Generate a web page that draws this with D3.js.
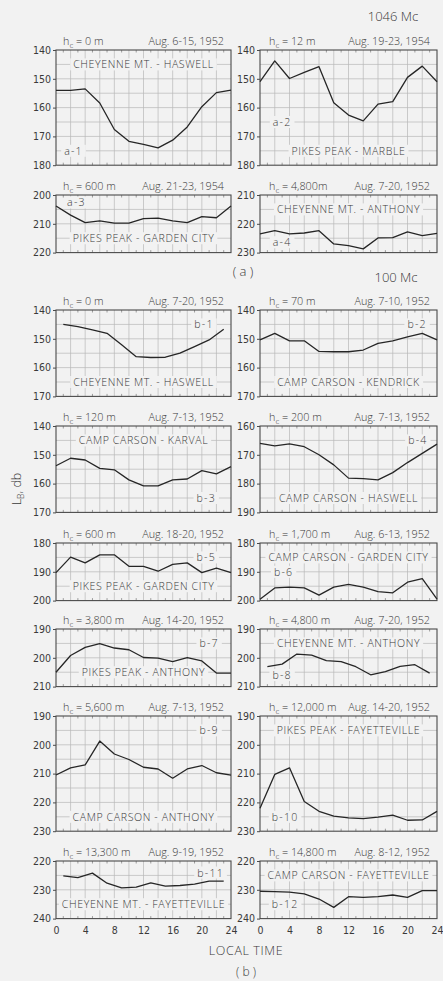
<!DOCTYPE html>
<html>
<head>
<meta charset="utf-8">
<script src="https://cdn.jsdelivr.net/npm/d3@7/dist/d3.min.js"></script>
<style>
  html, body { margin: 0; padding: 0; background: #f2f2f2; }
  svg { display: block; }
  text { fill: #3a3a3a; font-family: "Open Sans", "DejaVu Sans", sans-serif; font-weight: 300; }
  .tick { font-family: "Liberation Sans Narrow", "DejaVu Sans Condensed", sans-serif; font-size: 10.5px; }
</style>
</head>
<body>
<svg id="chart" width="443" height="981"></svg>
<script>
// Hours of the day at which the diurnal medians are plotted
const hoursEven = [0, 2, 4, 6, 8, 10, 12, 14, 16, 18, 20, 22, 24];
const hoursOdd = [1, 3, 5, 7, 9, 11, 13, 15, 17, 19, 21, 23];
const xTickLabels = [0, 4, 8, 12, 16, 20, 24];

// Basic transmission loss L_B (db), 1046 Mc
const a1 = [154, 154, 153.5, 158.4, 167.6, 171.7, 172.8, 174, 171.3, 166.7, 159.7, 154.8, 153.9];
const a2 = [151, 143.8, 149.9, 147.8, 145.8, 158.3, 162.6, 164.6, 158.8, 157.9, 149.5, 145.6, 151];
const a3 = [203.8, 207, 209.6, 209, 209.8, 209.8, 208.2, 208, 209, 209.6, 207.5, 207.9, 203.8];
const a4 = [223.5, 222.4, 223.5, 223.2, 222.4, 227, 227.6, 228.7, 224.9, 224.8, 222.8, 224.1, 223.3];

// Basic transmission loss L_B (db), 100 Mc
const b1 = [145, 145.8, 146.9, 148.1, 152.1, 156.2, 156.5, 156.4, 155, 152.7, 150.4, 146.7];
const b2 = [150.4, 148.1, 150.7, 150.7, 154.4, 154.5, 154.5, 153.9, 151.6, 150.7, 149.3, 148.1, 150.4];
const b3 = [153.8, 151.2, 151.8, 154.7, 155.2, 158.7, 160.8, 160.8, 158.7, 158.4, 155.5, 156.6, 154.1];
const b4 = [166, 166.9, 166.2, 167.2, 170, 173.5, 178.1, 178.3, 178.7, 176.2, 172.7, 169.5, 166.3];
const b5 = [190.3, 184.9, 186.9, 184.1, 184.1, 188.1, 188.1, 189.8, 187.4, 186.9, 190.3, 188.7, 190.3];
const b6 = [199.5, 195.6, 195.3, 195.6, 198.1, 195.3, 194.4, 195.3, 196.9, 197.3, 193.6, 192.4, 199.5];
const b7 = [205, 199.2, 196.4, 195.1, 196.6, 197.2, 199.9, 200.1, 201.3, 199.9, 201.1, 205.3, 205.3];
const b8 = [203.1, 202.2, 198.7, 199.1, 201, 201.3, 203.1, 205.9, 204.8, 203, 202.4, 205.3];
const b9 = [210.5, 208, 207, 198.7, 203.2, 205.1, 207.8, 208.4, 211.6, 208.4, 207.2, 209.7, 210.5];
const b10 = [222, 210.3, 208, 219.7, 223.1, 224.8, 225.4, 225.6, 225.1, 224.4, 226.2, 226.1, 223.1];
const b11 = [225.2, 225.8, 224.2, 227.7, 229.3, 229.1, 227.6, 228.7, 228.5, 228, 227, 227];
const b12 = [230.5, 230.6, 230.8, 231.4, 233.2, 236.1, 232.4, 232.6, 232.4, 231.8, 232.6, 230.3, 230.3];

// Antenna heights, measurement periods, paths and L_B ranges
const panelIds = ["a-1", "a-2", "a-3", "a-4", "b-1", "b-2", "b-3", "b-4",
                  "b-5", "b-6", "b-7", "b-8", "b-9", "b-10", "b-11", "b-12"];
const heights = ["0 m", "12 m", "600 m", "4,800m", "0 m", "70 m", "120 m", "200 m",
                 "600 m", "1,700 m", "3,800 m", "4,800 m", "5,600 m", "12,000 m", "13,300 m", "14,800 m"];
const periods = ["Aug. 6-15, 1952", "Aug. 19-23, 1954", "Aug. 21-23, 1954", "Aug. 7-20, 1952",
                 "Aug. 7-20, 1952", "Aug. 7-10, 1952", "Aug. 7-13, 1952", "Aug. 7-13, 1952",
                 "Aug. 18-20, 1952", "Aug. 6-13, 1952", "Aug. 14-20, 1952", "Aug. 7-20, 1952",
                 "Aug. 7-13, 1952", "Aug. 14-20, 1952", "Aug. 9-19, 1952", "Aug. 8-12, 1952"];
const paths = ["CHEYENNE MT. - HASWELL", "PIKES PEAK - MARBLE", "PIKES PEAK - GARDEN CITY", "CHEYENNE MT. - ANTHONY",
               "CHEYENNE MT. - HASWELL", "CAMP CARSON - KENDRICK", "CAMP CARSON - KARVAL", "CAMP CARSON - HASWELL",
               "PIKES PEAK - GARDEN CITY", "CAMP CARSON - GARDEN CITY", "PIKES PEAK - ANTHONY", "CHEYENNE MT. - ANTHONY",
               "CAMP CARSON - ANTHONY", "PIKES PEAK - FAYETTEVILLE", "CHEYENNE MT. - FAYETTEVILLE", "CAMP CARSON - FAYETTEVILLE"];
const yMin = [140, 140, 200, 210, 140, 140, 140, 160, 180, 180, 190, 190, 190, 190, 220, 220];
const yMax = [180, 180, 220, 230, 170, 170, 170, 190, 200, 200, 210, 210, 230, 230, 240, 240];
const seriesValues = [a1, a2, a3, a4, b1, b2, b3, b4, b5, b6, b7, b8, b9, b10, b11, b12];
const seriesHours = [hoursEven, hoursEven, hoursEven, hoursEven, hoursOdd, hoursEven, hoursEven, hoursEven,
                     hoursEven, hoursEven, hoursEven, hoursOdd, hoursEven, hoursEven, hoursOdd, hoursEven];

// ---- layout ----
const svg = d3.select("#chart");
const cols = [[56, 231], [260, 437]];
const rowTops = [50, 195, 310, 426, 543, 629, 716, 861];
const pxPerDb = 2.88;
// where the path name and the panel tag sit, in (hour, db) of each panel
const pathPos = [[12, 145], [12, 175], [12, 215], [12, 215], [12, 165], [12, 165], [12, 145], [12, 185],
                 [12, 195], [12, 185], [12, 205], [12, 195], [12, 225], [12, 195], [12, 235], [12, 225]];
const tagPos = [[2.4, 175], [3.0, 165], [2.8, 202.6], [3.0, 226.4], [20.3, 145], [21.3, 145], [20.6, 165], [21.4, 165],
                [20.6, 185], [3.2, 190], [21, 195], [3.0, 206], [21, 195], [3.4, 225], [21.2, 224], [3.4, 235]];

const bg = "#f2f2f2";

panelIds.forEach((id, i) => {
  const col = i % 2;
  const row = Math.floor(i / 2);
  const [x0, x1] = cols[col];
  const top = rowTops[row];
  const bottom = top + (yMax[i] - yMin[i]) * pxPerDb;
  const x = d3.scaleLinear().domain([0, 24]).range([x0, x1]);
  const y = d3.scaleLinear().domain([yMin[i], yMax[i]]).range([top, bottom]);
  const g = svg.append("g");

  // grid: every 2 hours, every 5 db
  g.selectAll("line.vg").data(d3.range(2, 24, 2)).join("line")
    .attr("x1", d => x(d)).attr("x2", d => x(d)).attr("y1", top).attr("y2", bottom)
    .attr("stroke", "#b8b8b8").attr("stroke-width", 0.7);
  g.selectAll("line.hg").data(d3.range(yMin[i] + 5, yMax[i], 5)).join("line")
    .attr("x1", x0).attr("x2", x1).attr("y1", d => y(d)).attr("y2", d => y(d))
    .attr("stroke", "#b8b8b8").attr("stroke-width", 0.7);
  // hourly ticks along top and bottom edges
  g.selectAll("line.ht").data(d3.range(1, 24, 2)).join("line")
    .attr("x1", d => x(d)).attr("x2", d => x(d)).attr("y1", top).attr("y2", top + 2.5)
    .attr("stroke", "#777").attr("stroke-width", 0.7);
  g.selectAll("line.hb").data(d3.range(1, 24, 2)).join("line")
    .attr("x1", d => x(d)).attr("x2", d => x(d)).attr("y1", bottom).attr("y2", bottom - 2.5)
    .attr("stroke", "#777").attr("stroke-width", 0.7);

  // path name and tag, laid over the grid
  const labels = [
    { t: paths[i], p: pathPos[i], size: 10.6, ls: 0.6 },
    { t: id, p: tagPos[i], size: 10.6, ls: 1.2 }
  ];
  labels.forEach(l => {
    const txt = g.append("text")
      .attr("x", x(l.p[0])).attr("y", y(l.p[1]))
      .attr("text-anchor", "middle").attr("dominant-baseline", "central")
      .attr("font-size", l.size).attr("letter-spacing", l.ls)
      .text(l.t);
    const b = txt.node().getBBox();
    g.insert("rect", "text")
      .attr("x", b.x - 3).attr("y", b.y + 1).attr("width", b.width + 6).attr("height", b.height - 2)
      .attr("fill", bg);
  });

  // frame
  g.append("rect").attr("x", x0).attr("y", top).attr("width", x1 - x0).attr("height", bottom - top)
    .attr("fill", "none").attr("stroke", "#4a4a4a").attr("stroke-width", 1.1);

  // y axis with 10-db labels
  const yAxis = d3.axisLeft(y).tickValues(d3.range(yMin[i], yMax[i] + 0.1, 10)).tickSize(3).tickPadding(2);
  const ya = g.append("g").attr("transform", `translate(${x0},0)`).call(yAxis);
  ya.select(".domain").remove();
  ya.selectAll("line").attr("stroke", "#4a4a4a");
  ya.selectAll("text").attr("class", "tick").attr("fill", "#3a3a3a");
  ya.attr("font-size", null).attr("font-family", null);

  // x axis on the bottom row only
  if (row === rowTops.length - 1) {
    const xAxis = d3.axisBottom(x).tickValues(xTickLabels).tickSize(0).tickPadding(8);
    const xa = g.append("g").attr("transform", `translate(0,${bottom})`).call(xAxis);
    xa.select(".domain").remove();
    xa.selectAll("text").attr("class", "tick").attr("fill", "#3a3a3a");
    xa.attr("font-size", null).attr("font-family", null);
  }

  // diurnal curve
  const pts = seriesHours[i].map((h, k) => [h, seriesValues[i][k]]);
  g.append("path").datum(pts)
    .attr("d", d3.line().x(d => x(d[0])).y(d => y(d[1])))
    .attr("fill", "none").attr("stroke", "#262626").attr("stroke-width", 1.3)
    .attr("stroke-linejoin", "round");

  // heading: antenna height and period
  const hx = col === 0 ? x0 + 7 : x0 + 9;
  const ht = g.append("text").attr("x", hx).attr("y", top - 5).attr("font-size", 10.8);
  ht.append("tspan").text("h");
  ht.append("tspan").text("c").attr("font-size", 8).attr("dy", 2.5);
  ht.append("tspan").text(" = " + heights[i]).attr("dy", -2.5);
  g.append("text").attr("x", x1 - 7).attr("y", top - 5).attr("text-anchor", "end")
    .attr("font-size", 10.8).text(periods[i]);
});

// frequency headings, part labels and axis titles
svg.append("text").attr("x", 393).attr("y", 21).attr("text-anchor", "middle").attr("font-size", 13).text("1046 Mc");
svg.append("text").attr("x", 243).attr("y", 276).attr("text-anchor", "middle").attr("font-size", 13).text("( a )");
svg.append("text").attr("x", 396).attr("y", 282).attr("text-anchor", "middle").attr("font-size", 13).text("100 Mc");
svg.append("text").attr("x", 246).attr("y", 955).attr("text-anchor", "middle").attr("font-size", 12.5)
  .attr("letter-spacing", 0.6).text("LOCAL TIME");
svg.append("text").attr("x", 246).attr("y", 976).attr("text-anchor", "middle").attr("font-size", 12).text("( b )");

const yt = svg.append("text").attr("transform", "translate(21,489) rotate(-90)")
  .attr("text-anchor", "middle").attr("font-size", 12.5);
yt.append("tspan").text("L");
yt.append("tspan").text("B").attr("font-size", 8.5).attr("dy", 3);
yt.append("tspan").text(", db").attr("dy", -3);
</script>
</body>
</html>
